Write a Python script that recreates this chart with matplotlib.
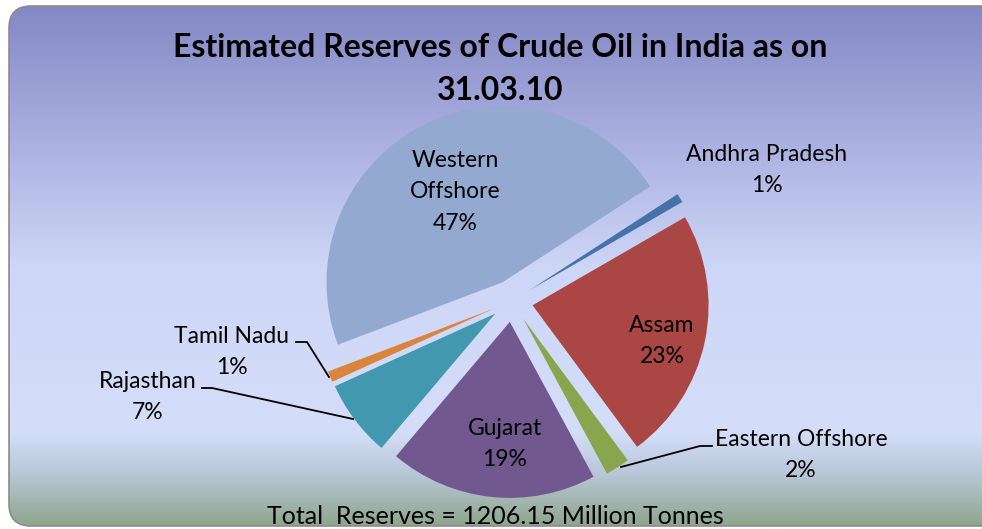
import numpy as np
import matplotlib.pyplot as plt
from matplotlib.patches import FancyBboxPatch
from matplotlib.colors import LinearSegmentedColormap

# Estimated reserves (million tonnes), read from the chart percentages
regions = ["Andhra Pradesh", "Assam", "Eastern Offshore", "Gujarat",
           "Rajasthan", "Tamil Nadu", "Western Offshore"]
reserves = [10.0, 280.0, 27.0, 230.0, 85.0, 12.0, 562.15]
colors = ["#4572A7", "#AA4643", "#89A54E", "#71588F",
          "#4198AF", "#DB843D", "#93A9CF"]
total_text = "Total  Reserves = 1206.15 Million Tonnes"
title = "Estimated Reserves of Crude Oil in India as on\n31.03.10"

W, H = 982, 529
plt.rcParams["font.family"] = ["Lato", "DejaVu Sans"]

fig = plt.figure(figsize=(W / 100, H / 100), dpi=100)
ax = fig.add_axes([0, 0, 1, 1])


def Y(y):
    # image rows (top down) -> axes units (bottom up)
    return H - y


# rounded background with vertical gradient
frame = FancyBboxPatch((9, Y(526)), W + 20, 520,
                       boxstyle="round,pad=0,rounding_size=22",
                       fc="none", ec="#8c8c8c", lw=1.2, zorder=3)
ax.add_patch(frame)
stops = [(0.0, "#8488c4"), (0.22, "#a4aadc"), (0.5, "#cdd6f6"),
         (0.82, "#d4def9"), (0.9, "#b9c7d8"), (1.0, "#8fa68c")]
cmap = LinearSegmentedColormap.from_list("bg", stops)
grad = np.linspace(0, 1, 256).reshape(-1, 1)
img = ax.imshow(grad, cmap=cmap, aspect="auto",
                extent=(0, W, Y(526), Y(6)), origin="upper", zorder=0)
img.set_clip_path(frame)

# pie, clockwise starting at about 33 degrees, every slice pulled out
ax.pie(reserves, colors=colors, startangle=33, counterclock=False,
       explode=[21] * len(reserves), radius=176, center=(512, Y(301)),
       wedgeprops=dict(lw=0), frame=True)
ax.set_xlim(0, W)
ax.set_ylim(0, H)
ax.axis("off")

pcts = [round(v / sum(reserves) * 100) for v in reserves]
labels = {r: f"{r}\n{p}%" for r, p in zip(regions, pcts)}
labels["Western Offshore"] = "Western\nOffshore\n{}%".format(pcts[-1])

fs = 16.5
label_pos = {"Andhra Pradesh": (767, 170), "Assam": (662, 341),
             "Eastern Offshore": (801, 455), "Gujarat": (505, 444),
             "Rajasthan": (148, 397), "Tamil Nadu": (232, 352),
             "Western Offshore": (455, 192)}
for r in regions:
    x, y = label_pos[r]
    ax.text(x, Y(y), labels[r], ha="center", va="center", fontsize=fs,
            linespacing=1.6, zorder=4)

# leader lines
leaders = [[(296, 342), (307, 342), (329, 377)],
           [(202, 388), (212, 388), (353, 419)],
           [(712, 446), (700, 446), (621, 467)]]
for pts in leaders:
    xs, ys = zip(*pts)
    ax.plot(xs, [Y(v) for v in ys], color="black", lw=1.3, zorder=4)

ax.text(500, Y(69), title, ha="center", va="center", fontsize=23,
        fontweight="bold", linespacing=1.55, zorder=4)
ax.text(495, Y(516), total_text, ha="center", va="center", fontsize=18,
        zorder=4)

fig.savefig("out.png", dpi=100)
